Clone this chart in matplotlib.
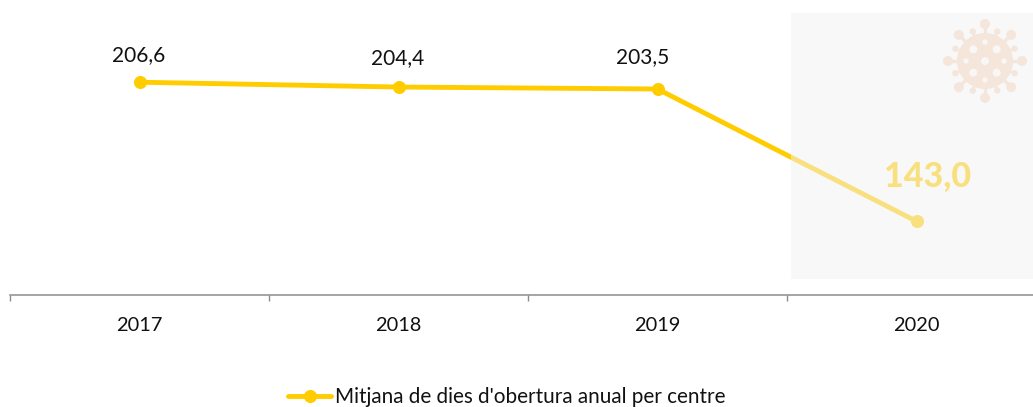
"""Mitjana de dies d'obertura anual per centre, 2017-2020."""
import matplotlib
matplotlib.use("Agg")
import matplotlib.pyplot as plt
from matplotlib.patches import Circle, Rectangle
import numpy as np

years = ["2017", "2018", "2019", "2020"]
values = [206.6, 204.4, 203.5, 143.0]
value_labels = ["206,6", "204,4", "203,5", "143,0"]
series_name = "Mitjana de dies d'obertura anual per centre"

YELLOW = "#FFCC00"
W, H = 1033, 407

plt.rcParams["font.family"] = ["Lato", "DejaVu Sans"]

fig = plt.figure(figsize=(W / 100, H / 100), dpi=100)
ax = fig.add_axes([10 / W, (H - 295) / H, (W - 10) / W, 295 / H])
ax.patch.set_visible(False)

x = np.arange(len(years)) + 0.5
ax.plot(x, values, color=YELLOW, lw=3.5, marker="o", ms=9.4, mew=0,
        solid_capstyle="round", label=series_name, clip_on=False)
ax.set_xlim(0, (W - 10) / 259)
ax.set_ylim(109.3, 244.2)

# category boundaries get the ticks, labels sit in the middle
ax.set_xticks(np.arange(len(years)))
ax.set_xticklabels([])
ax.set_xticks(x, minor=True)
ax.set_xticklabels(years, minor=True, fontsize=14.4, color="#111111")
ax.tick_params(axis="x", which="major", length=4.5, width=1, color="#8c8c8c")
ax.tick_params(axis="x", which="minor", length=0, pad=15.5)
ax.set_yticks([])
for side in ("top", "left", "right"):
    ax.spines[side].set_visible(False)
ax.spines["bottom"].set_color("#8c8c8c")
ax.spines["bottom"].set_linewidth(1.1)

# labels, in pixels from the point
offsets = [(-1, 27), (-1, 29), (-15, 32)]
for xi, v, lab, off in zip(x, values, value_labels, offsets):
    ax.annotate(lab, (xi, v), xytext=(off[0] * 0.72, off[1] * 0.72),
                textcoords="offset points", ha="center", va="center",
                fontsize=15, color="#111111")
ax.annotate(value_labels[3], (x[3], values[3]), xytext=(11 * 0.72, 44 * 0.72),
            textcoords="offset points", ha="center", va="center",
            fontsize=24.5, fontweight="black", color=YELLOW)

leg = fig.legend(loc="center", bbox_to_anchor=(507 / W, (H - 397) / H), frameon=False,
                 fontsize=14.9, handlelength=2.05, handletextpad=0.2,
                 labelcolor="#111111", borderpad=0)

# overlay in image pixels: the veil that washes out 2020, and the virus icon
over = fig.add_axes([0, 0, 1, 1])
over.set_xlim(0, W)
over.set_ylim(H, 0)
over.axis("off")
over.patch.set_visible(False)
over.add_patch(Rectangle((791, 13), W - 791, 279 - 13, fc="#f2f2f2", ec="none", alpha=0.53))

ICON = "#F5E6DB"
HOLE = "#F8F7F6"
cx, cy = 985, 61
over.add_patch(Circle((cx, cy), 28, fc=ICON, ec="none", zorder=3))
for i in range(16):
    a = i * np.pi / 8
    long_spike = i % 2 == 0
    r = 37 if long_spike else 32
    ball = 5 if long_spike else 3.2
    over.plot([cx + 26 * np.cos(a), cx + r * np.cos(a)], [cy + 26 * np.sin(a), cy + r * np.sin(a)],
              color=ICON, lw=2.4 if long_spike else 1.8, solid_capstyle="butt", zorder=3)
    over.add_patch(Circle((cx + r * np.cos(a), cy + r * np.sin(a)), ball, fc=ICON, ec="none", zorder=3))
over.add_patch(Circle((cx, cy), 4, fc=HOLE, ec="none", zorder=4))
for i in range(4):
    a = np.pi / 4 + i * np.pi / 2
    over.add_patch(Circle((cx + 16.5 * np.cos(a), cy + 16.5 * np.sin(a)), 4, fc=HOLE, ec="none", zorder=4))
    b = i * np.pi / 2
    over.add_patch(Circle((cx + 19 * np.cos(b), cy + 19 * np.sin(b)), 2.7, fc=HOLE, ec="none", zorder=4))

fig.savefig("out.png", dpi=100)
